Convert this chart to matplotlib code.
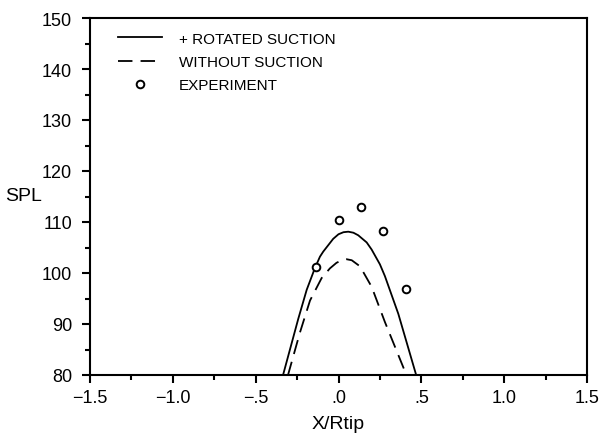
import matplotlib
matplotlib.use("Agg")
import matplotlib.pyplot as plt
from matplotlib.ticker import MultipleLocator, FuncFormatter

# Predicted SPL directivity, with rotated suction applied
x_suction = [-0.36, -0.333, -0.243, -0.192, -0.142, -0.112, -0.092, -0.032,
             0.0, 0.03, 0.059, 0.09, 0.119, 0.17, 0.2, 0.25, 0.28, 0.361,
             0.467, 0.48]
spl_suction = [75.5, 80.2, 91.0, 96.7, 101.0, 103.2, 104.2, 106.7,
               107.6, 108.0, 108.1, 107.9, 107.4, 106.0, 104.6, 101.7, 99.4,
               92.0, 80.2, 78.0]

# Predicted SPL without suction
x_plain = [-0.33, -0.303, -0.233, -0.172, -0.102, -0.052, -0.012, 0.02,
           0.049, 0.08, 0.13, 0.2, 0.28, 0.40, 0.42]
spl_plain = [75.5, 80.2, 88.3, 94.6, 99.0, 100.9, 102.0, 102.5,
             102.7, 102.5, 101.3, 97.3, 90.4, 80.8, 77.5]

# Measured points
x_exp = [-0.138, 0.0, 0.135, 0.27, 0.405]
spl_exp = [101.2, 110.4, 112.9, 108.2, 96.9]

plt.rcParams["font.family"] = ["Liberation Sans", "DejaVu Sans"]


def fmt_x(v, pos):
    s = f"{abs(v):.1f}"
    if s.startswith("0"):
        s = s[1:]
    return ("\u2212" if v < 0 else "") + s


fig = plt.figure(figsize=(6.07, 4.39), dpi=100)
ax = fig.add_axes([90 / 607, 1 - 376 / 439, 497 / 607, 357 / 439])

ax.plot(x_suction, spl_suction, color="black", lw=1.3, label="+ ROTATED SUCTION")
ax.plot(x_plain, spl_plain, color="black", lw=1.3, dashes=(8, 4.5),
        label="WITHOUT SUCTION")
ax.plot(x_exp, spl_exp, ls="none", marker="o", ms=5.5, mfc="white",
        mec="black", mew=1.4, label="EXPERIMENT")

ax.set_xlim(-1.5, 1.5)
ax.set_ylim(80, 150)
ax.xaxis.set_major_locator(MultipleLocator(0.5))
ax.xaxis.set_minor_locator(MultipleLocator(0.25))
ax.yaxis.set_major_locator(MultipleLocator(10))
ax.yaxis.set_minor_locator(MultipleLocator(5))
ax.xaxis.set_major_formatter(FuncFormatter(fmt_x))

for sp in ax.spines.values():
    sp.set_linewidth(1.5)
ax.tick_params(which="major", direction="out", length=6, width=1.5,
               labelsize=13, colors="black")
ax.tick_params(which="minor", direction="out", length=3.5, width=1.5)
ax.tick_params(axis="y", which="major", pad=7)
ax.tick_params(axis="x", which="major", pad=4)

ax.legend(loc="upper left", frameon=False, fontsize=11,
          handlelength=2.9, handletextpad=1.1, labelspacing=0.6, numpoints=1,
          borderaxespad=0.5, bbox_to_anchor=(0.028, 1.0))

fig.text(338 / 607, 1 - 425 / 439, "X/Rtip", ha="center", va="center",
         fontsize=14)
fig.text(24 / 607, 1 - 197 / 439, "SPL", ha="center", va="center",
         fontsize=14)

fig.savefig("out.png", dpi=100)
